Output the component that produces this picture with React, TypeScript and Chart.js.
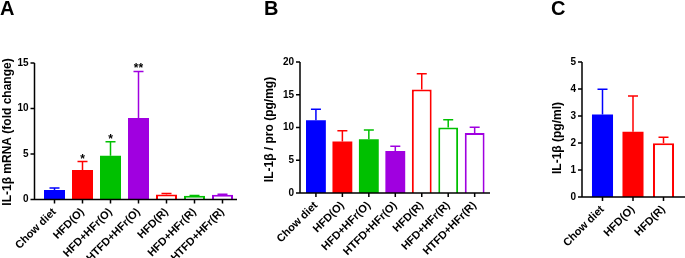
import React, { useEffect, useRef } from "react";
import { Chart, registerables } from "chart.js";

Chart.register(...registerables);

const FONT = "'Liberation Sans', Arial, Helvetica, sans-serif";

// ---------- DATA ----------
const groupsAB = ["Chow diet", "HFD(O)", "HFD+HFr(O)", "HTFD+HFr(O)", "HFD(R)", "HFD+HFr(R)", "HTFD+HFr(R)"];
const groupsC = ["Chow diet", "HFD(O)", "HFD(R)"];

// Panel A: IL-1β mRNA (fold change)
const mrnaMean = [1.05, 3.25, 4.8, 8.95, 0.55, 0.4, 0.52];
const mrnaErr = [0.22, 0.92, 1.55, 5.12, 0.1, 0.05, 0.06];
const mrnaStars = ["", "*", "*", "**", "", "", ""];
const ticksA = [0, 5, 10, 15];

// Panel B: IL-1β / pro (pg/mg)
const proteinMean = [11.1, 7.85, 8.2, 6.4, 15.8, 10.0, 9.15];
const proteinErr = [1.7, 1.65, 1.4, 0.75, 2.4, 1.2, 0.9];
const ticksB = [0, 5, 10, 15, 20];

// Panel C: IL-1β (pg/ml)
const serumMean = [3.06, 2.42, 1.99];
const serumErr = [0.93, 1.32, 0.22];
const ticksC = [0, 1, 2, 3, 4, 5];

// colours / fill style per group
const colorsAB = ["#0000FF", "#FF0000", "#00C000", "#A000E0", "#FF0000", "#00C000", "#A000E0"];
const hollowAB = [false, false, false, false, true, true, true];
const colorsC = ["#0000FF", "#FF0000", "#FF0000"];
const hollowC = [false, false, true];

type Panel = {
  labels: string[];
  mean: number[];
  err: number[];
  stars?: string[];
  ticks: number[];
  colors: string[];
  hollow: boolean[];
  title: string;
  // layout (local canvas coordinates)
  left: number;
  width: number;
  chartLeft: number;
  chartRight: number;
  top: number;
  bottom: number;
  axisX: number;
  axisXEnd: number;
  barPct: number;
  titleX: number;
  titleY: number;
};

const H = 258;

const panels: Panel[] = [
  {
    labels: groupsAB, mean: mrnaMean, err: mrnaErr, stars: mrnaStars, ticks: ticksA,
    colors: colorsAB, hollow: hollowAB, title: "IL-1\u03B2 mRNA (fold change)",
    left: 0, width: 240, chartLeft: 40.5, chartRight: 236.5, top: 63, bottom: 199.5,
    axisX: 34.5, axisXEnd: 237, barPct: 0.75, titleX: 8, titleY: 132,
  },
  {
    labels: groupsAB, mean: proteinMean, err: proteinErr, ticks: ticksB,
    colors: colorsAB, hollow: hollowAB, title: "IL-1\u03B2 / pro (pg/mg)",
    left: 240, width: 250, chartLeft: 62.7, chartRight: 250, top: 62, bottom: 193,
    axisX: 60, axisXEnd: 250, barPct: 0.75, titleX: 30, titleY: 129.5,
  },
  {
    labels: groupsC, mean: serumMean, err: serumErr, ticks: ticksC,
    colors: colorsC, hollow: hollowC, title: "IL-1\u03B2 (pg/ml)",
    left: 490, width: 195, chartLeft: 97.25, chartRight: 188.75, top: 62, bottom: 197,
    axisX: 92, axisXEnd: 195, barPct: 0.69, titleX: 68, titleY: 138,
  },
];

function makeChart(canvas: HTMLCanvasElement, p: Panel) {
  const yMax = p.ticks[p.ticks.length - 1];
  const step = p.ticks[1] - p.ticks[0];

  const overlay = {
    id: "gpOverlay",
    afterDatasetsDraw(chart: any) {
      const ctx = chart.ctx as CanvasRenderingContext2D;
      const ys = chart.scales.y;
      const meta = chart.getDatasetMeta(0);
      const y0 = ys.getPixelForValue(0);
      const yTop = ys.getPixelForValue(yMax);
      ctx.save();

      // error bars
      meta.data.forEach((bar: any, i: number) => {
        const yb = ys.getPixelForValue(p.mean[i]);
        const ye = ys.getPixelForValue(p.mean[i] + p.err[i]);
        ctx.strokeStyle = p.colors[i];
        ctx.lineWidth = 1.5;
        ctx.beginPath();
        ctx.moveTo(bar.x, yb);
        ctx.lineTo(bar.x, ye);
        ctx.moveTo(bar.x - 5, ye);
        ctx.lineTo(bar.x + 5, ye);
        ctx.stroke();
        if (p.stars && p.stars[i]) {
          ctx.fillStyle = "#000";
          ctx.font = `bold 12px ${FONT}`;
          ctx.textAlign = "center";
          ctx.textBaseline = "alphabetic";
          ctx.fillText(p.stars[i], bar.x, ye + 1);
        }
      });

      // axes
      ctx.strokeStyle = "#000";
      ctx.lineWidth = 1.5;
      ctx.beginPath();
      ctx.moveTo(p.axisX, yTop);
      ctx.lineTo(p.axisX, y0);
      ctx.lineTo(p.axisXEnd, y0);
      p.ticks.forEach((t) => {
        const ty = ys.getPixelForValue(t);
        ctx.moveTo(p.axisX - 4, ty);
        ctx.lineTo(p.axisX, ty);
      });
      meta.data.forEach((bar: any) => {
        ctx.moveTo(bar.x, y0);
        ctx.lineTo(bar.x, y0 + 4);
      });
      ctx.stroke();

      // y-axis title
      ctx.fillStyle = "#000";
      ctx.font = `bold 12px ${FONT}`;
      ctx.textAlign = "center";
      ctx.textBaseline = "middle";
      ctx.translate(p.titleX, p.titleY);
      ctx.rotate(-Math.PI / 2);
      ctx.fillText(p.title, 0, 0);
      ctx.restore();
    },
  };

  return new Chart(canvas, {
    type: "bar",
    data: {
      labels: p.labels,
      datasets: [
        {
          data: p.mean,
          backgroundColor: p.hollow.map((h, i) => (h ? "#FFFFFF" : p.colors[i])),
          borderColor: p.colors,
          borderWidth: p.hollow.map((h) => (h ? 2 : 0)),
          borderSkipped: "start",
          barPercentage: p.barPct,
          categoryPercentage: 1,
        },
      ],
    },
    options: {
      animation: false,
      responsive: false,
      maintainAspectRatio: false,
      devicePixelRatio: 1,
      layout: { padding: { left: 0, right: p.width - p.chartRight, top: p.top, bottom: 0 } },
      plugins: { legend: { display: false }, tooltip: { enabled: false }, title: { display: false } },
      scales: {
        x: {
          type: "category",
          offset: true,
          grid: { display: false, drawTicks: false },
          border: { display: false },
          ticks: {
            color: "#000",
            font: { family: FONT, size: 11, weight: "bold" },
            maxRotation: 45,
            minRotation: 45,
            autoSkip: false,
            padding: 6,
          },
          afterFit: (s: any) => {
            s.height = H - p.bottom;
          },
        },
        y: {
          min: 0,
          max: yMax,
          grid: { display: false, drawTicks: false },
          border: { display: false },
          ticks: {
            stepSize: step,
            color: "#000",
            font: { family: FONT, size: 10, weight: "bold" },
            padding: p.chartLeft - p.axisX + 6,
          },
          afterFit: (s: any) => {
            s.width = p.chartLeft;
          },
        },
      },
    },
    plugins: [overlay],
  } as any);
}

function PanelCanvas({ p }: { p: Panel }) {
  const ref = useRef<HTMLCanvasElement | null>(null);
  useEffect(() => {
    if (!ref.current) return;
    const chart = makeChart(ref.current, p);
    return () => chart.destroy();
  }, [p]);
  return (
    <canvas
      ref={ref}
      width={p.width}
      height={H}
      style={{ position: "absolute", left: p.left, top: 0, width: p.width, height: H }}
    />
  );
}

const letterStyle: React.CSSProperties = {
  position: "absolute",
  top: -4,
  fontFamily: FONT,
  fontWeight: "bold",
  fontSize: 20,
  lineHeight: "24px",
  color: "#000",
};

export default function App() {
  useEffect(() => {
    document.body.style.margin = "0";
  }, []);
  return (
    <div
      style={{
        position: "fixed",
        left: 0,
        top: 0,
        width: 685,
        height: H,
        background: "#FFFFFF",
        overflow: "hidden",
      }}
    >
      {panels.map((p, i) => (
        <PanelCanvas key={i} p={p} />
      ))}
      <div style={{ ...letterStyle, left: 0 }}>A</div>
      <div style={{ ...letterStyle, left: 264 }}>B</div>
      <div style={{ ...letterStyle, left: 551 }}>C</div>
    </div>
  );
}
